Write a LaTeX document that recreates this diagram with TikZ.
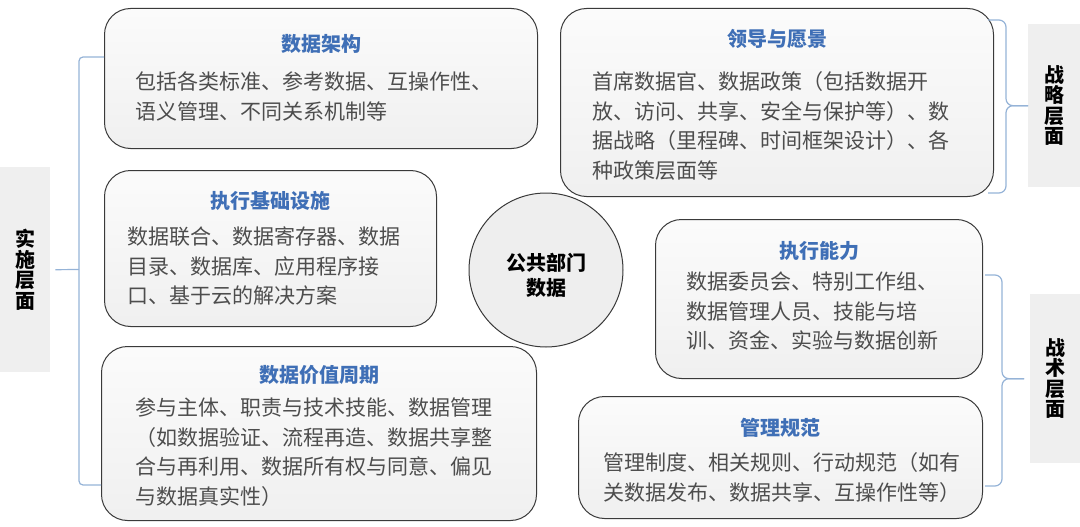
\documentclass[tikz,border=0pt]{standalone}
\usepackage{fontspec}
\setmainfont{Noto Sans CJK SC}
\usepackage{xcolor}

\XeTeXinterchartokenstate=1
\newcommand{\cjkskip}{\hskip 0pt plus 6pt\relax}
\XeTeXinterchartoks 1 1 = {\cjkskip}
\XeTeXinterchartoks 1 2 = {\cjkskip}
\XeTeXinterchartoks 3 1 = {\cjkskip}
\XeTeXinterchartoks 3 2 = {\cjkskip}
\XeTeXinterchartoks 1 3 = {\nobreak\cjkskip}
\XeTeXinterchartoks 2 1 = {\nobreak\cjkskip}
\XeTeXinterchartoks 3 3 = {\nobreak\cjkskip}

\definecolor{cardline}{HTML}{3A3A3A}
\definecolor{titleblue}{HTML}{3F6FB6}
\definecolor{bodygray}{HTML}{4D4D4D}
\definecolor{layergray}{HTML}{EFEFEF}
\definecolor{bracketblue}{HTML}{95B3D7}
\definecolor{hubfill}{HTML}{EEEEEE}

\begin{document}
\begin{tikzpicture}[x=1pt, y=-1pt,
    card/.style={draw=cardline, line width=1pt, rounded corners=26pt,
      top color=gray!3, bottom color=gray!12, anchor=north west, inner sep=0pt},
    head/.style={font=\fontsize{20}{24}\selectfont\bfseries, text=titleblue, inner sep=0pt},
    body/.style={font=\fontsize{21}{29.5}\selectfont, text=bodygray, align=justify,
      anchor=north west, inner sep=0pt},
    layer/.style={fill=layergray, anchor=north west, inner sep=0pt, align=center,
      font=\fontsize{20}{20.5}\selectfont\bfseries},
    hub/.style={circle, draw=cardline, line width=1pt, fill=hubfill, minimum size=154pt,
      inner sep=0pt},
    hubtext/.style={align=center, inner sep=0pt, font=\fontsize{20}{25}\selectfont\bfseries},
    bracket/.style={draw=bracketblue, line width=1.2pt}]
      \useasboundingbox (0,0) rectangle (1080,527);

      \node[card, minimum width=433pt, minimum height=140pt] (jiagou) at (104,8) {};
      \node[card, minimum width=332pt, minimum height=156pt] (jichu) at (104,170) {};
      \node[card, minimum width=435pt, minimum height=174pt] (jiazhi) at (101,346) {};
      \node[card, minimum width=433pt, minimum height=188pt] (lingdao) at (560,8) {};
      \node[card, minimum width=327pt, minimum height=159pt] (nengli) at (655,219) {};
      \node[card, minimum width=404pt, minimum height=122pt] (guifan) at (578,396) {};

      \node[head] (jiagou-h) at ([yshift=-36pt]jiagou.north) {数据架构};
      \node[head] (jichu-h) at ([yshift=-31pt]jichu.north) {执行基础设施};
      \node[head] (jiazhi-h) at ([yshift=-29pt]jiazhi.north) {数据价值周期};
      \node[head] (lingdao-h) at ([yshift=-31pt]lingdao.north) {领导与愿景};
      \node[head] (nengli-h) at ([yshift=-32pt]nengli.north) {执行能力};
      \node[head] (guifan-h) at ([yshift=-32pt]guifan.north) {管理规范};

      \node[body, text width=358pt] (jiagou-t) at (135,71.6)
        {包括各类标准、参考数据、互操作性、\linebreak 语义管理、不同关系机制等};
      \node[body, text width=277pt] (jichu-t) at (127,227)
        {数据联合、数据寄存器、数据\linebreak 目录、数据库、应用程序接\linebreak 口、基于云的解决方案};
      \node[body, text width=358pt] (jiazhi-t) at (135,398)
        {参与主体、职责与技术技能、数据管理\linebreak （如数据验证、流程再造、数据共享整\linebreak 合与再利用、数据所有权与同意、偏见\linebreak 与数据真实性）};
      \node[body, text width=371pt] (lingdao-t) at (592,71.6)
        {首席数据官、数据政策（包括数据开\linebreak 放、访问、共享、安全与保护等）、数\linebreak 据战略（里程碑、时间框架设计）、各\linebreak 种政策层面等};
      \node[body, text width=266pt] (nengli-t) at (686,272)
        {数据委员会、特别工作组、\linebreak 数据管理人员、技能与培\linebreak 训、资金、实验与数据创新};
      \node[body, text width=358pt] (guifan-t) at (603,452.6)
        {管理制度、相关规则、行动规范（如有\linebreak 关数据发布、数据共享、互操作性等）};

      \node[hub] (hub) at (546,270) {};
      \node[hubtext] (hub-t) at ([yshift=-5pt]hub.center) {公共部门\\数据};

      \node[layer, minimum width=50pt, minimum height=205pt] (shishi) at (0,167) {实\\施\\层\\面};
      \node[layer, minimum width=52pt, minimum height=163pt] (zhanlue) at (1028,24) {战\\略\\层\\面};
      \node[layer, minimum width=50pt, minimum height=169pt] (zhanshu) at (1030,294) {战\\术\\层\\面};

      \coordinate (zl-a) at (988,20);
      \coordinate (zl-b) at (988,193);
      \coordinate (zs-a) at (985,275);
      \coordinate (zs-b) at (985,486);

      \draw[bracket, rounded corners=4pt] (jiagou.west |- 0,57) -| (79,485) -- (jiazhi.west |- 0,485);
      \draw[bracket] (79,269.5) -- ([xshift=5pt]shishi.east);
      \draw[bracket, rounded corners=7pt] (zl-a) -| ([xshift=-22pt]zhanlue.west) -- (zhanlue.west);
      \draw[bracket, rounded corners=7pt] (zl-b) -| ([xshift=-22pt]zhanlue.west) -- (zhanlue.west);
      \draw[bracket, rounded corners=7pt] (zs-a) -| ([xshift=-28pt]zhanshu.west) -- ([xshift=-6pt]zhanshu.west);
      \draw[bracket, rounded corners=7pt] (zs-b) -| ([xshift=-28pt]zhanshu.west) -- ([xshift=-6pt]zhanshu.west);
\end{tikzpicture}
\end{document}
